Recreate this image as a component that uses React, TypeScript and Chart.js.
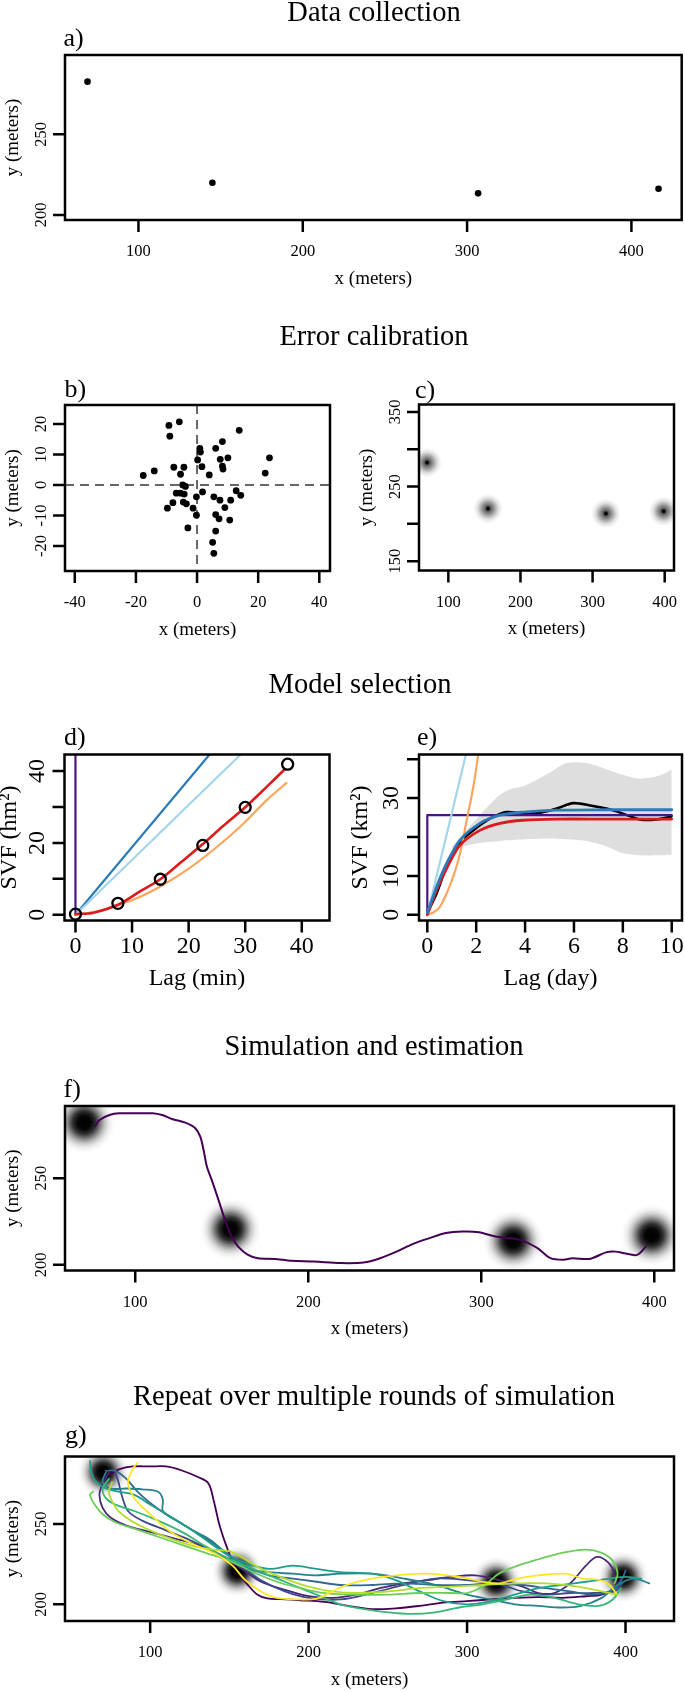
import React, { useEffect, useRef } from "react";
import { Chart, registerables } from "chart.js";
Chart.register(...registerables);

const SERIF = '"Liberation Serif", "Times New Roman", Times, serif';
const PAGE_W = 685;
const PAGE_H = 1692;

// ---------- a) Data collection (raw fixes)
const rawX = [69, 145, 306.7, 416.5];
const rawY = [282.6, 220, 213.4, 216.3];

// ---------- b) calibration errors
const errX = [-9.2, -5.8, -8.9, 13.8, 8.3, 0.9, 1.1, 6.1, 7.6, 10.1, 23.7, 0.2, -7.6, -4.3, 1.6, 8.3, 8.5, -14.0, -17.6, -5.4, 4.0, 22.3, -4.7, -3.8, -6.8, -5.4, -4.2, 1.8, -0.2, 5.5, 12.8, 14.3, -7.9, -4.5, -3.5, 7.5, 11.0, -9.7, -1.3, 9.1, -0.2, 6.1, 7.2, 10.7, -3.0, 6.1, 5.1, 5.5];
const errY = [19.5, 20.7, 16.0, 17.9, 14.2, 12.0, 10.8, 12.0, 8.4, 8.9, 8.9, 8.2, 5.8, 5.8, 6.0, 6.2, 5.2, 4.6, 3.1, 3.5, 3.3, 3.9, 0, -0.5, -2.7, -2.7, -3.0, -2.3, -3.9, -3.9, -1.9, -3.4, -5.8, -5.6, -6.2, -5.0, -5.0, -7.6, -7.6, -7.4, -9.9, -9.7, -11.1, -11.5, -14.1, -15.1, -18.8, -22.4];

// ---------- c) calibrated locations (also blob centres in f, g)
const locX = [70.5, 155, 318.4, 398.5];
const locY = [282.2, 220.6, 213.9, 217];

// ---------- d) SVF, short lags (min)
const dCircLag = [0, 7.5, 15, 22.5, 30, 37.5];
const dCircSVF = [0.2, 3.2, 9.9, 19.3, 29.9, 41.9];
const dRedLag = [0, 3.2, 7.5, 11.4, 15.0, 18.8, 22.3, 26.1, 30.0, 33.8, 37.0];
const dRedSVF = [0.2, 0.6, 2.8, 6.5, 9.9, 14.8, 19.4, 24.7, 29.9, 35.6, 40.5];
const dOrangeLag = [0, 4.4, 10.2, 15.0, 19.7, 24.4, 29.1, 33.8, 37.3];
const dOrangeSVF = [0, 1.2, 4.2, 7.9, 12.5, 18.1, 24.5, 31.9, 36.7];
const dBlueLag = [0, 23.7];
const dBlueSVF = [0, 44.6];
const dLightLag = [0, 29.2];
const dLightSVF = [0, 44.6];
const dPurpleLag = [0, 0];
const dPurpleSVF = [0, 44.6];

// ---------- e) SVF, long lags (day)
const eBandLag = [1.0, 1.5, 2.0, 2.5, 3.0, 3.5, 4.0, 5.0, 5.7, 6.5, 7.3, 8.0, 8.7, 9.5, 10.0];
const eBandHi = [17.5, 21.0, 24.5, 28.0, 31.0, 32.5, 33.2, 36.5, 39.0, 39.0, 37.5, 36.0, 35.0, 35.8, 37.3];
const eBandLo = [17.0, 17.6, 18.3, 18.7, 19.0, 19.2, 19.4, 19.6, 19.4, 19.0, 17.7, 15.8, 15.3, 15.3, 15.5];
const eBlackLag = [0, 0.38, 0.79, 1.34, 1.88, 2.56, 3.24, 3.92, 4.6, 5.29, 5.97, 6.65, 7.33, 8.01, 8.69, 9.37, 9.99];
const eBlackSVF = [0.5, 5.5, 12.4, 18.8, 21.7, 24.7, 26.4, 26.0, 26.2, 27.3, 28.7, 28.1, 27.3, 26.0, 24.5, 24.5, 25.3];
const eBlueLag = [0, 0.38, 0.79, 1.34, 2.15, 2.97, 3.92, 5.29, 7.33, 10];
const eBlueSVF = [0.5, 7.2, 13.2, 19.2, 23.5, 25.6, 26.4, 26.9, 27.0, 27.0];
const eRedLag = [0, 0.38, 0.79, 1.34, 2.15, 2.97, 3.92, 5.29, 7.33, 10];
const eRedSVF = [0, 6.4, 11.9, 17.9, 21.7, 23.5, 24.3, 24.6, 24.6, 24.6];
const eOrangeLag = [0, 0.25, 0.52, 0.79, 1.06, 1.34, 1.61, 1.88, 2.08];
const eOrangeSVF = [0, 0.6, 2.1, 5.5, 9.8, 15.8, 24.3, 32.8, 41.1];
const eLightLag = [0, 1.58];
const eLightSVF = [0, 41.2];
const ePurpleLag = [0, 0, 10];
const ePurpleSVF = [0, 25.6, 25.6];

// ---------- f) one simulated track
const trackX = [76.9, 79.4, 85.1, 90.8, 102.3, 109.9, 115.6, 121.3, 129.0, 134.7, 137.6, 139.5, 141.4, 144.2, 148.1, 151.9, 155.7, 159.5, 165.2, 170.9, 180.5, 190.0, 203.4, 218.6, 232.0, 241.5, 251.0, 260.6, 270.1, 279.6, 289.2, 298.7, 308.2, 322.5, 332.5, 340.0, 347.5, 352.5, 362.6, 372.5, 377.6, 382.6, 390.0, 395.1];
const trackY = [280.2, 283.6, 286.5, 287.5, 287.5, 287.5, 286.5, 284.2, 282.1, 278.9, 274.0, 266.3, 256.7, 249.0, 237.5, 225.9, 216.3, 210.5, 205.7, 203.8, 203.4, 202.3, 201.9, 201.0, 201.3, 203.8, 207.6, 212.1, 215.4, 218.3, 219.2, 218.8, 216.3, 214.4, 209.6, 203.8, 202.9, 203.8, 203.4, 207.3, 207.6, 206.7, 205.7, 210.5];

// ---------- g) repeated simulations
const sim01X = [74.5, 80.7, 89, 100, 110, 120, 130.5, 136.7, 140, 144, 149, 154.5, 161.6, 167.8, 174, 182.4, 195, 210, 225, 240, 255, 270, 285, 300, 315, 330, 345, 360, 375, 385, 393, 397];
const sim01Y = [280.6, 284, 285.7, 285.7, 285.7, 283.2, 279, 275.3, 264.9, 248.3, 233.8, 221.4, 212.1, 205.9, 203.6, 203.2, 202.5, 201.5, 199, 197, 197.5, 199, 201, 202, 203, 204, 204.5, 204, 205, 206, 210, 216];
const sim02X = [74, 70, 68, 70, 75, 85, 100, 115, 130, 145, 158, 170, 185, 200, 215, 230, 245, 260, 275, 290, 305, 320, 335, 345, 355, 365, 375, 382, 389, 393, 394, 390];
const sim02Y = [282, 275, 268, 260, 254, 249, 245, 241, 237, 230, 222, 214, 209, 205, 204, 206, 210, 213, 215, 217, 218, 215, 211, 207, 207, 213, 224, 229.5, 226, 219, 211, 207];
const sim03X = [78, 80, 82, 86, 95, 110, 125, 140, 155, 170, 185, 200, 220, 240, 260, 280, 300, 318, 335, 350, 365, 380, 393, 398];
const sim03Y = [282, 276, 268, 258, 252, 246, 240, 233, 225, 215, 208, 204, 203, 207, 212, 216, 215, 213, 208, 206, 207, 207, 208, 213];
const sim04X = [72, 78, 85, 92, 100, 110, 122, 135, 148, 160, 175, 190, 205, 220, 240, 260, 280, 300, 318, 335, 350, 365, 380, 392, 398, 400];
const sim04Y = [283, 283, 278, 270, 263, 256, 249, 241, 232, 224, 218, 216, 214, 212, 212, 213, 212, 212, 213, 212, 210, 208, 206, 209, 216, 221];
const sim05X = [72, 70, 75, 85, 95, 105, 108, 108, 115, 125, 138, 150, 162, 175, 190, 205, 220, 240, 260, 280, 300, 315, 330, 345, 360, 372, 385, 395, 405, 415];
const sim05Y = [282, 276, 272, 272, 271.5, 270, 265, 258, 253, 247, 240, 230, 222, 220, 219, 218, 219, 219, 216, 212, 206, 203, 200, 199, 198, 199, 204, 212, 216, 213];
const sim06X = [62, 63, 66, 72, 80, 90, 100, 112, 125, 138, 150, 162, 175, 190, 205, 220, 240, 255, 270, 285, 300, 315, 330, 345, 360, 375, 390, 400, 410];
const sim06Y = [289, 282, 276, 272, 270, 268, 262, 255, 247, 238, 230, 225, 222, 224, 222, 220, 219, 215, 208, 202, 200, 202, 206, 210, 212, 214, 216, 217, 216];
const sim07X = [74, 70, 72, 78, 90, 105, 120, 135, 148, 160, 175, 190, 205, 220, 235, 250, 265, 280, 295, 310, 325, 340, 355, 370, 383, 392, 397];
const sim07Y = [278, 272, 266, 262, 258, 252, 245, 236, 229, 224, 218, 212, 206, 200, 197, 195, 194, 195, 198, 200, 203, 206, 204, 200, 199, 203, 210];
const sim08X = [64, 62, 65, 70, 78, 90, 105, 120, 135, 150, 165, 180, 195, 210, 230, 250, 270, 290, 300, 310, 320, 332, 345, 360, 375, 385, 392, 395, 393];
const sim08Y = [270, 268, 262, 256, 251, 247, 242, 237, 232, 227, 220, 214, 210, 207, 206, 206, 207, 207, 207, 211, 219, 224, 228, 232, 234, 232, 227, 219, 213];
const sim09X = [76, 74, 76, 80, 88, 100, 115, 128, 140, 150, 160, 170, 185, 200, 215, 230, 250, 270, 290, 310, 330, 350, 370, 385, 395];
const sim09Y = [276, 270, 264, 258, 252, 246, 240, 236, 234, 233, 228, 222, 216, 211, 208, 207, 208, 210, 211, 212, 213, 213, 211, 208, 206];
const sim10X = [92, 89, 86, 90, 100, 113, 128, 142, 152, 160, 170, 180, 195, 205, 213, 224, 240, 255, 275, 295, 310, 320, 332, 345, 362, 373, 384, 390, 394];
const sim10Y = [288, 284, 276, 266, 256, 245, 237, 231, 224, 215, 208, 204, 203, 203.5, 207, 212, 216, 218, 219, 217, 214, 213, 216, 218, 219, 216, 215, 212, 207];
const simPaths = [
  [sim01X, sim01Y], [sim02X, sim02Y], [sim03X, sim03Y], [sim04X, sim04Y], [sim05X, sim05Y],
  [sim06X, sim06Y], [sim07X, sim07Y], [sim08X, sim08Y], [sim09X, sim09Y], [sim10X, sim10Y],
];
const simColors = ["#440154", "#482878", "#3E4A89", "#31688E", "#26828E", "#1F9E89", "#35B779", "#6DCD59", "#B4DE2C", "#FDE725"];

// ---------- tick values / labels
const metersTicks = [100, 200, 300, 400];
const metersTickLabels = ["100", "200", "300", "400"];
const yMetersTicks = [200, 250];
const yMetersTickLabels = ["200", "250"];
const errTicksX = [-40, -20, 0, 20, 40];
const errTickLabelsX = ["-40", "-20", "0", "20", "40"];
const errTicksY = [-20, -10, 0, 10, 20];
const errTickLabelsY = ["-20", "-10", "0", "10", "20"];
const cTicksY = [150, 200, 250, 300, 350];
const cTickLabelsY = ["150", "", "250", "", "350"];
const dTicksX = [0, 10, 20, 30, 40];
const dTickLabelsX = ["0", "10", "20", "30", "40"];
const dTicksY = [0, 10, 20, 30, 40];
const dTickLabelsY = ["0", "", "20", "", "40"];
const eTicksX = [0, 2, 4, 6, 8, 10];
const eTickLabelsX = ["0", "2", "4", "6", "8", "10"];
const eTicksY = [0, 10, 20, 30, 40];
const eTickLabelsY = ["0", "10", "", "30", ""];

// ---------- helpers
const pts = (xs: number[], ys: number[]) => xs.map((x, i) => ({ x, y: ys[i] }));

const line = (xs: number[], ys: number[], color: string, width: number, order: number, tension = 0) => ({
  data: pts(xs, ys),
  showLine: true,
  borderColor: color,
  borderWidth: width,
  pointRadius: 0,
  pointHoverRadius: 0,
  tension,
  fill: false,
  order,
  borderCapStyle: "round",
  borderJoinStyle: "round",
});

const dots = (xs: number[], ys: number[], r: number, fillColor: string, border: string, bw: number, order: number) => ({
  data: pts(xs, ys),
  showLine: false,
  pointRadius: r,
  pointHoverRadius: r,
  backgroundColor: fillColor,
  borderColor: border,
  borderWidth: bw,
  pointBackgroundColor: fillColor,
  pointBorderColor: border,
  pointBorderWidth: bw,
  order,
});

function makeBlob(radius: number, stops: number[][], dot: number) {
  const size = Math.ceil(radius) * 2;
  const cv = document.createElement("canvas");
  cv.width = size;
  cv.height = size;
  const ctx = cv.getContext("2d")!;
  const g = ctx.createRadialGradient(size / 2, size / 2, 0, size / 2, size / 2, radius);
  stops.forEach(([o, a]) => g.addColorStop(o, `rgba(0,0,0,${a})`));
  ctx.fillStyle = g;
  ctx.fillRect(0, 0, size, size);
  if (dot > 0) {
    ctx.fillStyle = "#000";
    ctx.beginPath();
    ctx.arc(size / 2, size / 2, dot, 0, Math.PI * 2);
    ctx.fill();
  }
  return cv;
}

const blobs = (xs: number[], ys: number[], img: HTMLCanvasElement) => ({
  data: pts(xs, ys),
  showLine: false,
  pointStyle: img,
  pointRadius: 10,
  pointHoverRadius: 10,
  clip: 0,
  order: 100,
});

type Spec = {
  box: { l: number; t: number; r: number; b: number };
  xMin: number; xMax: number; yMin: number; yMax: number;
  xTicks: number[]; xLabels: string[];
  yTicks: number[]; yLabels: string[];
  tickSize: number; labSize: number;
  xTickOff: number; xTitleOff: number; yTickOff: number; yTitleOff: number;
  xTitle: string; yTitle: string;
  panel: string; panelX: number; panelY: number;
  title?: string; titleX?: number; titleY?: number;
  crossLines?: boolean;
};

function axesPlugin(s: Spec, id: string) {
  return {
    id,
    beforeDatasetsDraw(chart: any) {
      if (!s.crossLines) return;
      const ctx = chart.ctx;
      const { left, top, right, bottom } = chart.chartArea;
      const x0 = chart.scales.x.getPixelForValue(0);
      const y0 = chart.scales.y.getPixelForValue(0);
      ctx.save();
      ctx.strokeStyle = "#666";
      ctx.lineWidth = 2;
      ctx.setLineDash([9, 6]);
      ctx.beginPath();
      ctx.moveTo(x0, top);
      ctx.lineTo(x0, bottom);
      ctx.moveTo(left, y0);
      ctx.lineTo(right, y0);
      ctx.stroke();
      ctx.restore();
    },
    afterDraw(chart: any) {
      const ctx = chart.ctx;
      const { left, top, right, bottom } = chart.chartArea;
      const xs = chart.scales.x;
      const ys = chart.scales.y;
      const TL = 12;
      ctx.save();
      ctx.strokeStyle = "#000";
      ctx.lineWidth = 2.5;
      ctx.setLineDash([]);
      ctx.strokeRect(left, top, right - left, bottom - top);
      ctx.beginPath();
      s.xTicks.forEach((v) => {
        const p = xs.getPixelForValue(v);
        ctx.moveTo(p, bottom);
        ctx.lineTo(p, bottom + TL);
      });
      s.yTicks.forEach((v) => {
        const p = ys.getPixelForValue(v);
        ctx.moveTo(left, p);
        ctx.lineTo(left - TL, p);
      });
      ctx.stroke();

      ctx.fillStyle = "#000";
      ctx.textAlign = "center";
      ctx.textBaseline = "middle";
      ctx.font = `${s.tickSize}px ${SERIF}`;
      s.xTicks.forEach((v, i) => {
        const lab = s.xLabels[i];
        if (lab) ctx.fillText(lab, xs.getPixelForValue(v), bottom + s.xTickOff);
      });
      s.yTicks.forEach((v, i) => {
        const lab = s.yLabels[i];
        if (!lab) return;
        ctx.save();
        ctx.translate(left - s.yTickOff, ys.getPixelForValue(v));
        ctx.rotate(-Math.PI / 2);
        ctx.fillText(lab, 0, 0);
        ctx.restore();
      });

      ctx.font = `${s.labSize}px ${SERIF}`;
      ctx.fillText(s.xTitle, (left + right) / 2, bottom + s.xTitleOff);
      ctx.save();
      ctx.translate(left - s.yTitleOff, (top + bottom) / 2);
      ctx.rotate(-Math.PI / 2);
      ctx.fillText(s.yTitle, 0, 0);
      ctx.restore();

      ctx.textAlign = "left";
      ctx.textBaseline = "alphabetic";
      ctx.font = `26px ${SERIF}`;
      ctx.fillText(s.panel, s.panelX, s.panelY);

      if (s.title) {
        ctx.textAlign = "center";
        ctx.font = `28.5px ${SERIF}`;
        ctx.fillText(s.title, s.titleX, s.titleY);
      }
      ctx.restore();
    },
  };
}

function makeConfig(s: Spec, datasets: any[], id: string) {
  return {
    type: "line",
    data: { datasets },
    options: {
      animation: false,
      responsive: false,
      maintainAspectRatio: false,
      devicePixelRatio: 1,
      events: [],
      layout: {
        padding: { left: s.box.l, top: s.box.t, right: PAGE_W - s.box.r, bottom: PAGE_H - s.box.b },
      },
      scales: {
        x: { type: "linear", min: s.xMin, max: s.xMax, display: false },
        y: { type: "linear", min: s.yMin, max: s.yMax, display: false },
      },
      plugins: {
        legend: { display: false },
        tooltip: { enabled: false },
        title: { display: false },
      },
    },
    plugins: [axesPlugin(s, id)],
  } as any;
}

const smallAxes = {
  tickSize: 16.5, labSize: 19,
  xTickOff: 32, xTitleOff: 59, yTickOff: 23.5, yTitleOff: 52,
};
const bigAxes = {
  tickSize: 24, labSize: 24,
  xTickOff: 26.5, xTitleOff: 58.5, yTickOff: 26.5, yTitleOff: 54.5,
};

export default function App() {
  const canvases = useRef<(HTMLCanvasElement | null)[]>([]);

  useEffect(() => {
    const bigBlobStops = [[0, 1], [0.22, 0.98], [0.38, 0.8], [0.52, 0.5], [0.66, 0.24], [0.8, 0.08], [0.92, 0.02], [1, 0]];
    const blobF = makeBlob(31, bigBlobStops, 0);
    const blobG = makeBlob(26, bigBlobStops, 0);
    const blobC = makeBlob(15, [[0, 0.8], [0.2, 0.62], [0.45, 0.36], [0.7, 0.12], [0.9, 0.03], [1, 0]], 2);

    const specA: Spec = {
      box: { l: 65, t: 55, r: 682, b: 220 },
      xMin: 55.3, xMax: 430.6, yMin: 196.9, yMax: 299.1,
      xTicks: metersTicks, xLabels: metersTickLabels, yTicks: yMetersTicks, yLabels: yMetersTickLabels,
      ...smallAxes,
      xTitle: "x (meters)", yTitle: "y (meters)",
      panel: "a)", panelX: 63.5, panelY: 45.5,
      title: "Data collection", titleX: 374, titleY: 20.5,
    };
    const specB: Spec = {
      box: { l: 65, t: 405, r: 330, b: 571 },
      xMin: -43.2, xMax: 43.5, yMin: -28.2, yMax: 26.2,
      xTicks: errTicksX, xLabels: errTickLabelsX, yTicks: errTicksY, yLabels: errTickLabelsY,
      ...smallAxes,
      xTitle: "x (meters)", yTitle: "y (meters)",
      panel: "b)", panelX: 64.5, panelY: 397,
      title: "Error calibration", titleX: 374, titleY: 345,
      crossLines: true,
    };
    const specC: Spec = {
      box: { l: 419, t: 404.5, r: 682, b: 570.5 },
      xMin: 59.3, xMax: 412.9, yMin: 137.5, yMax: 360,
      xTicks: metersTicks, xLabels: metersTickLabels, yTicks: cTicksY, yLabels: cTickLabelsY,
      ...smallAxes,
      xTitle: "x (meters)", yTitle: "y (meters)",
      panel: "c)", panelX: 415, panelY: 398,
    };
    const specD: Spec = {
      box: { l: 64.5, t: 754.5, r: 329.5, b: 920.5 },
      xMin: -1.94, xMax: 44.9, yMin: -1.58, yMax: 44.6,
      xTicks: dTicksX, xLabels: dTickLabelsX, yTicks: dTicksY, yLabels: dTickLabelsY,
      ...bigAxes,
      xTitle: "Lag (min)", yTitle: "SVF (hm²)",
      panel: "d)", panelX: 64, panelY: 745,
      title: "Model selection", titleX: 360, titleY: 693,
    };
    const specE: Spec = {
      box: { l: 419, t: 754.5, r: 682, b: 920.5 },
      xMin: -0.34, xMax: 10.42, yMin: -1.46, yMax: 41.2,
      xTicks: eTicksX, xLabels: eTickLabelsX, yTicks: eTicksY, yLabels: eTickLabelsY,
      ...bigAxes,
      yTickOff: 27.5, yTitleOff: 58,
      xTitle: "Lag (day)", yTitle: "SVF (km²)",
      panel: "e)", panelX: 417, panelY: 745,
    };
    const specF: Spec = {
      box: { l: 65, t: 1106, r: 682, b: 1270.5 },
      xMin: 59.4, xMax: 411.4, yMin: 196.7, yMax: 291.7,
      xTicks: metersTicks, xLabels: metersTickLabels, yTicks: yMetersTicks, yLabels: yMetersTickLabels,
      ...smallAxes,
      xTitle: "x (meters)", yTitle: "y (meters)",
      panel: "f)", panelX: 63.5, panelY: 1096.5,
      title: "Simulation and estimation", titleX: 374, titleY: 1055,
    };
    const specG: Spec = {
      box: { l: 65, t: 1456.5, r: 682, b: 1621 },
      xMin: 46.25, xMax: 430.6, yMin: 189.6, yMax: 291.9,
      xTicks: metersTicks, xLabels: metersTickLabels, yTicks: yMetersTicks, yLabels: yMetersTickLabels,
      ...smallAxes,
      xTitle: "x (meters)", yTitle: "y (meters)",
      panel: "g)", panelX: 65, panelY: 1443,
      title: "Repeat over multiple rounds of simulation", titleX: 374, titleY: 1405,
    };

    const configs = [
      makeConfig(specA, [dots(rawX, rawY, 3.3, "#000", "#000", 0, 1)], "axA"),
      makeConfig(specB, [dots(errX, errY, 3.4, "#000", "#000", 0, 1)], "axB"),
      makeConfig(specC, [blobs(locX, locY, blobC)], "axC"),
      makeConfig(
        specD,
        [
          dots(dCircLag, dCircSVF, 5.5, "rgba(0,0,0,0)", "#000", 2.3, 1),
          line(dRedLag, dRedSVF, "#dc1c1c", 2.6, 2, 0.3),
          line(dOrangeLag, dOrangeSVF, "#fca55d", 2.2, 3, 0.3),
          line(dLightLag, dLightSVF, "#a3d5eb", 2.2, 4),
          line(dBlueLag, dBlueSVF, "#2b7bba", 2.2, 5),
          line(dPurpleLag, dPurpleSVF, "#4a1486", 2.2, 6),
        ],
        "axD"
      ),
      makeConfig(
        specE,
        [
          {
            data: pts(eBandLag, eBandHi), showLine: true, borderColor: "rgba(0,0,0,0)", borderWidth: 1,
            pointRadius: 0, backgroundColor: "#dedede", fill: "+1", order: 20, tension: 0.3,
          },
          {
            data: pts(eBandLag, eBandLo), showLine: true, borderColor: "rgba(0,0,0,0)", borderWidth: 1,
            pointRadius: 0, fill: false, order: 21, tension: 0.3,
          },
          line(eBlueLag, eBlueSVF, "#2b7bba", 2.8, 1, 0.3),
          line(eRedLag, eRedSVF, "#dc1c1c", 2.8, 2, 0.3),
          line(eOrangeLag, eOrangeSVF, "#fca55d", 2.2, 3, 0.3),
          line(eLightLag, eLightSVF, "#a3d5eb", 2.2, 4),
          line(ePurpleLag, ePurpleSVF, "#4a1486", 2.2, 5),
          line(eBlackLag, eBlackSVF, "#000", 2.6, 6, 0.3),
        ],
        "axE"
      ),
      makeConfig(specF, [line(trackX, trackY, "#440154", 2, 1, 0.3), blobs(locX, locY, blobF)], "axF"),
      makeConfig(
        specG,
        [
          ...simPaths.map(([xs, ys], i) => line(xs, ys, simColors[i], 1.8, 20 - i, 0.35)),
          blobs(locX, locY, blobG),
        ],
        "axG"
      ),
    ];

    const charts: Chart[] = [];
    configs.forEach((cfg, i) => {
      const cv = canvases.current[i];
      if (cv) charts.push(new Chart(cv, cfg));
    });
    return () => charts.forEach((c) => c.destroy());
  }, []);

  return (
    <div style={{ position: "absolute", left: 0, top: 0, width: PAGE_W, height: PAGE_H, background: "#fff", overflow: "hidden" }}>
      {[0, 1, 2, 3, 4, 5, 6].map((i) => (
        <canvas
          key={i}
          ref={(el) => {
            canvases.current[i] = el;
          }}
          width={PAGE_W}
          height={PAGE_H}
          style={{ position: "absolute", left: 0, top: 0, width: PAGE_W, height: PAGE_H, pointerEvents: "none" }}
        />
      ))}
    </div>
  );
}
